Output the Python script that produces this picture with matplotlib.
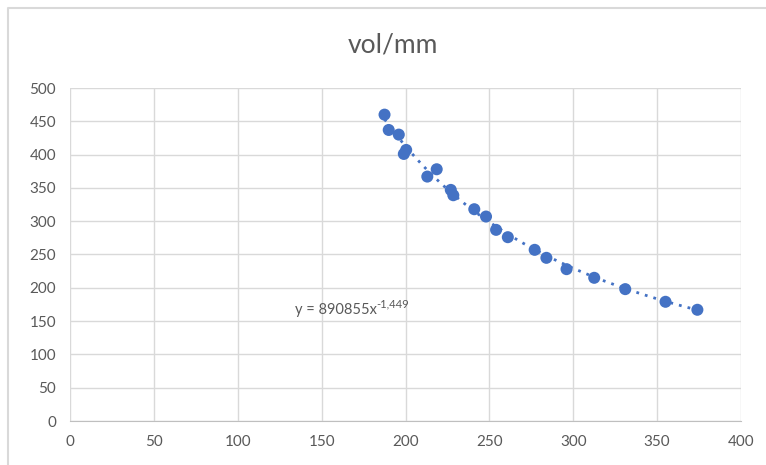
import numpy as np
import matplotlib.pyplot as plt
from matplotlib.lines import Line2D

# measured points (x, vol/mm)
x_vals = [187.5, 190, 196, 200.4, 199, 218.6, 213, 227, 228.5, 241, 248,
          254, 261, 277, 284, 296, 312.5, 331, 355, 374]
y_vals = [460, 437, 430, 407, 401, 378, 367, 347, 339, 318, 307,
          287, 276, 257, 245, 228, 215, 198, 179, 167]

# power trendline as shown on the chart
coef_a = 890855
coef_b = -1.449

x_ticks = list(range(0, 401, 50))
y_ticks = list(range(0, 501, 50))

blue = "#4472C4"
grey_txt = "#595959"
grid_c = "#D9D9D9"

plt.rcParams["font.family"] = ["Lato", "DejaVu Sans"]

fig = plt.figure(figsize=(7.66, 4.65), dpi=100)
# chart area border (only left and top edges are inside the picture)
fig.lines.append(Line2D([8 / 766, 8 / 766, 1.0], [0.0, 1 - 8 / 465, 1 - 8 / 465],
                        transform=fig.transFigure, color=grid_c, lw=1.5))

ax = fig.add_axes([70 / 766, 1 - 421 / 465, (741 - 70) / 766, (421 - 88) / 465])

xs = np.linspace(min(x_vals), max(x_vals), 200)
ax.plot(xs, coef_a * xs ** coef_b, color=blue, lw=2, ls=(0, (1, 2.2)), zorder=2)
ax.scatter(x_vals, y_vals, s=75, color=blue, edgecolors="none", zorder=3)

eq = ax.text(134, 167, "y = %dx" % coef_a, color=grey_txt, fontsize=10.5,
             va="center", ha="left")
ax.annotate(("%.3f" % coef_b).replace(".", ","), xy=(1, 0.55), xycoords=eq,
            color=grey_txt, fontsize=8, va="bottom", ha="left")

ax.set_xlim(0, 400)
ax.set_ylim(0, 500)
ax.set_xticks(x_ticks)
ax.set_yticks(y_ticks)
ax.grid(True, color=grid_c, lw=1)
ax.set_axisbelow(True)
for side in ["left", "right", "top"]:
    ax.spines[side].set_visible(False)
ax.spines["bottom"].set_color("#BFBFBF")
ax.tick_params(length=0, labelsize=11, colors=grey_txt, pad=10)

fig.text(393 / 766, 1 - 45 / 465, "vol/mm", ha="center", va="center",
         fontsize=19, color=grey_txt)

fig.savefig("out.png", dpi=100)
